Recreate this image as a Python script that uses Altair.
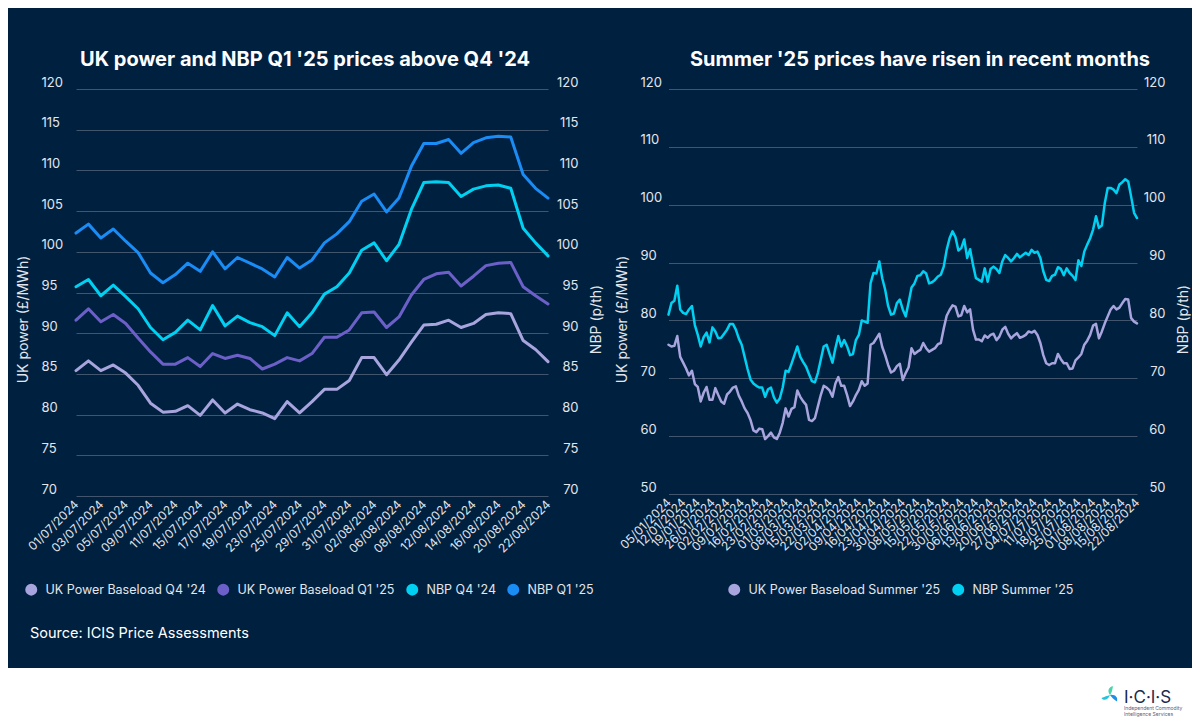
import altair as alt
import pandas as pd

BG = "#00203f"
GRID = "#43556d"
TXT = "#e2e6ec"
FONT = "Inter"

# ---------------- Left chart data ----------------
left_dates = [
    "01/07/2024", "02/07/2024", "03/07/2024", "04/07/2024", "05/07/2024",
    "08/07/2024", "09/07/2024", "10/07/2024", "11/07/2024", "12/07/2024",
    "15/07/2024", "16/07/2024", "17/07/2024", "18/07/2024", "19/07/2024",
    "22/07/2024", "23/07/2024", "24/07/2024", "25/07/2024", "26/07/2024",
    "29/07/2024", "30/07/2024", "31/07/2024", "01/08/2024", "02/08/2024",
    "05/08/2024", "06/08/2024", "07/08/2024", "08/08/2024", "09/08/2024",
    "12/08/2024", "13/08/2024", "14/08/2024", "15/08/2024", "16/08/2024",
    "19/08/2024", "20/08/2024", "21/08/2024", "22/08/2024",
]
left_ticks = [
    "01/07/2024", "03/07/2024", "05/07/2024", "09/07/2024", "11/07/2024",
    "15/07/2024", "17/07/2024", "19/07/2024", "23/07/2024", "25/07/2024",
    "29/07/2024", "31/07/2024", "02/08/2024", "06/08/2024", "08/08/2024",
    "12/08/2024", "14/08/2024", "16/08/2024", "20/08/2024", "22/08/2024",
]
uk_q4_24 = [85.4, 86.6, 85.4, 86.1, 85.1, 83.6, 81.4, 80.3, 80.4, 81.1,
            79.9, 81.8, 80.2, 81.3, 80.6, 80.2, 79.5, 81.6, 80.2, 81.6,
            83.1, 83.1, 84.2, 87.0, 87.0, 84.9, 86.7, 88.9, 91.0, 91.1,
            91.6, 90.7, 91.2, 92.3, 92.5, 92.4, 89.1, 88.0, 86.5]
uk_q1_25 = [91.6, 93.0, 91.4, 92.3, 91.2, 89.4, 87.7, 86.2, 86.2, 87.0,
            85.9, 87.5, 86.9, 87.3, 86.9, 85.6, 86.2, 87.0, 86.6, 87.5,
            89.5, 89.5, 90.4, 92.5, 92.6, 90.7, 92.0, 94.7, 96.6, 97.3,
            97.5, 95.8, 97.0, 98.3, 98.6, 98.7, 95.7, 94.6, 93.6]
nbp_q4_24 = [95.7, 96.6, 94.6, 95.9, 94.5, 93.0, 90.7, 89.2, 90.1, 91.6,
             90.4, 93.4, 90.9, 92.1, 91.3, 90.8, 89.7, 92.5, 90.8, 92.5,
             94.8, 95.7, 97.4, 100.2, 101.1, 98.9, 100.9, 105.2, 108.5, 108.6,
             108.5, 106.8, 107.7, 108.1, 108.2, 107.8, 102.9, 101.1, 99.5]
nbp_q1_25 = [102.3, 103.4, 101.7, 102.8, 101.3, 99.9, 97.4, 96.2, 97.2, 98.6,
             97.6, 100.0, 97.9, 99.3, 98.6, 97.9, 96.9, 99.3, 98.0, 99.0,
             101.1, 102.2, 103.7, 106.2, 107.1, 104.9, 106.6, 110.5, 113.3, 113.3,
             113.8, 112.1, 113.4, 114.0, 114.2, 114.1, 109.5, 107.8, 106.6]
left_names = ["UK Power Baseload Q4 '24", "UK Power Baseload Q1 '25", "NBP Q4 '24", "NBP Q1 '25"]
left_colors = ["#a8a4de", "#6c60c8", "#00d0f2", "#1a8cf5"]

# ---------------- Right chart data ----------------
uk_holidays = ["2024-03-29", "2024-04-01", "2024-05-06", "2024-05-27"]
right_dates = [d.strftime("%d/%m/%Y") for d in
               pd.bdate_range("2024-01-05", "2024-08-22", freq="C", holidays=uk_holidays)]
right_ticks = [
    "05/01/2024", "12/01/2024", "19/01/2024", "26/01/2024", "02/02/2024", "09/02/2024",
    "16/02/2024", "23/02/2024", "01/03/2024", "08/03/2024", "15/03/2024", "22/03/2024",
    "02/04/2024", "09/04/2024", "16/04/2024", "23/04/2024", "30/04/2024", "08/05/2024",
    "15/05/2024", "22/05/2024", "30/05/2024", "06/06/2024", "13/06/2024", "20/06/2024",
    "27/06/2024", "04/07/2024", "11/07/2024", "18/07/2024", "25/07/2024", "01/08/2024",
    "08/08/2024", "15/08/2024", "22/08/2024",
]
uk_summer_25 = [
    75.8, 75.5, 75.6, 77.3, 73.7, 72.7, 71.7, 70.5, 71.3, 69.0,
    68.5, 66.0, 67.5, 68.5, 66.3, 66.3, 68.3, 67.1, 66.0, 65.6,
    67.2, 67.7, 68.4, 68.6, 67.0, 66.0, 64.8, 64.0, 62.8, 61.0,
    60.7, 61.3, 61.2, 59.5, 60.0, 60.6, 59.8, 59.5, 60.6, 62.3,
    64.8, 63.4, 64.7, 65.0, 67.9, 66.8, 66.0, 65.4, 62.8, 62.6,
    63.1, 65.1, 67.1, 68.7, 68.4, 67.9, 66.8, 69.1, 70.2, 68.7,
    68.7, 67.1, 65.2, 66.0, 67.1, 68.0, 69.5, 68.7, 69.1, 75.8,
    76.1, 76.9, 77.7, 75.4, 74.0, 72.3, 71.0, 71.3, 72.1, 72.5,
    69.7, 70.9, 71.9, 75.2, 74.2, 74.6, 74.9, 76.1, 75.2, 74.6,
    74.9, 75.2, 75.9, 76.1, 78.6, 80.8, 81.8, 82.6, 82.4, 80.7,
    80.9, 82.5, 81.4, 81.9, 78.4, 76.7, 76.7, 76.4, 77.4, 77.0,
    77.5, 77.7, 76.6, 77.2, 78.4, 78.9, 77.7, 76.9, 77.4, 77.8,
    77.0, 77.2, 77.5, 78.1, 77.9, 78.2, 77.5, 76.1, 74.0, 72.6,
    72.3, 72.6, 72.6, 74.2, 73.3, 72.6, 72.6, 71.6, 71.7, 73.1,
    73.6, 74.2, 75.8, 76.5, 77.5, 79.1, 79.4, 76.9, 78.1, 79.5,
    80.7, 81.9, 82.5, 81.9, 82.2, 83.0, 83.7, 83.6, 80.4, 79.8,
    79.5,
]
nbp_summer_25 = [
    81.0, 83.0, 83.4, 86.0, 81.9, 81.3, 81.1, 81.9, 82.5, 79.2,
    77.5, 75.5, 77.1, 77.9, 76.2, 78.8, 78.1, 76.9, 77.0, 77.7,
    78.4, 79.4, 79.4, 78.4, 76.9, 75.8, 73.7, 71.6, 69.8, 69.1,
    68.7, 68.4, 68.4, 66.8, 68.1, 68.4, 66.7, 65.8, 66.5, 68.4,
    71.3, 71.1, 72.5, 74.0, 75.5, 73.7, 72.8, 72.0, 70.7, 69.5,
    69.3, 70.9, 73.2, 75.5, 75.8, 74.2, 72.7, 75.2, 77.3, 75.5,
    76.6, 75.5, 74.0, 74.2, 76.6, 77.5, 80.0, 79.8, 79.6, 86.4,
    88.2, 88.1, 90.2, 87.3, 85.3, 82.5, 81.0, 81.2, 83.0, 83.6,
    81.9, 80.7, 83.1, 85.7, 86.4, 87.7, 87.8, 88.5, 88.1, 86.4,
    86.6, 87.0, 87.6, 87.9, 89.3, 92.2, 94.2, 95.4, 94.4, 92.1,
    92.5, 94.0, 90.8, 92.3, 89.6, 87.3, 87.0, 86.7, 89.0, 86.7,
    88.9, 89.3, 88.9, 88.2, 90.2, 91.3, 90.8, 90.2, 90.8, 91.5,
    90.9, 91.3, 91.7, 91.3, 92.2, 91.7, 91.9, 90.8, 88.5, 87.0,
    86.8, 87.7, 87.9, 89.2, 88.9, 87.8, 89.0, 88.2, 87.7, 87.0,
    90.4, 89.4, 91.9, 93.1, 94.2, 95.7, 98.0, 96.0, 96.4, 100.3,
    102.9, 102.9, 102.6, 102.0, 103.5, 103.9, 104.4, 104.0, 101.4, 98.6,
    97.7,
]
right_names = ["UK Power Baseload Summer '25", "NBP Summer '25"]
right_colors = ["#a8a4de", "#00d0f2"]

TITLE_LEFT = "UK power and NBP Q1 '25 prices above Q4 '24"
TITLE_RIGHT = "Summer '25 prices have risen in recent months"
SOURCE = "Source: ICIS Price Assessments"


def long_df(dates, names, series):
    rows = []
    for n, s in zip(names, series):
        for i, (d, v) in enumerate(zip(dates, s)):
            rows.append({"date": d, "idx": i, "series": n, "value": v})
    return pd.DataFrame(rows)


uk_left = long_df(left_dates, left_names[:2], [uk_q4_24, uk_q1_25])
nbp_left = long_df(left_dates, left_names[2:], [nbp_q4_24, nbp_q1_25])
uk_right = long_df(right_dates, right_names[:1], [uk_summer_25])
nbp_right = long_df(right_dates, right_names[1:], [nbp_summer_25])

one = alt.Data(values=[{"k": 0}])

LW, LH = 537, 407
RW, RH = 525, 405


def x_enc(dates, ticks, rng):
    return alt.X(
        "date:N", sort=dates,
        scale=alt.Scale(type="point", padding=0, range=rng),
        axis=alt.Axis(values=ticks, title=None, labelAngle=-45, labelAlign="right",
                      labelBaseline="middle", labelPadding=6, labelFontSize=12,
                      labelColor=TXT, labelFont=FONT, domain=False, ticks=False,
                      grid=False, labelOverlap=False),
    )


def y_enc(domain, values, orient, title, grid):
    return alt.Y(
        "value:Q",
        scale=alt.Scale(domain=domain, nice=False, zero=False),
        axis=alt.Axis(
            orient=orient, values=values, title=title, grid=grid, gridColor=GRID,
            gridWidth=1, domain=False, ticks=False, tickSize=0, labelPadding=0,
            labelAlign="left" if orient == "left" else "right",
            labelBaseline="alphabetic", labelOffset=-3, labelFlush=False,
            labelOverlap=False, labelColor=TXT, labelFontSize=13, labelFont=FONT,
            titleAngle=270, titleX=-18 if orient == "left" else 18, titleY=230,
            titleAlign="center", titleBaseline="middle", titleColor=TXT,
            titleFontSize=14, titleFontWeight="normal", titleFont=FONT,
        ),
    )


def legend(x, y):
    return alt.Legend(orient="none", legendX=x, legendY=y, direction="horizontal",
                      title=None, symbolType="circle", symbolSize=36,
                      symbolStrokeWidth=6, labelFontSize=12.5, labelColor=TXT,
                      labelFont=FONT, labelLimit=0, columnPadding=2, labelOffset=8,
                      padding=0)


def lines(df, dates, ticks, rng, domain, values, orient, title, grid, names, colors, lg, sw):
    return alt.Chart(df).mark_line(strokeWidth=sw, strokeJoin="round", strokeCap="round").encode(
        x=x_enc(dates, ticks, rng),
        y=y_enc(domain, values, orient, title, grid),
        color=alt.Color("series:N", scale=alt.Scale(domain=names, range=colors), legend=lg),
        order=alt.Order("idx:Q"),
    )


def text(t, x, y, size, color, weight="normal", align="left", baseline="middle"):
    return alt.Chart(one).mark_text(text=t, font=FONT, fontSize=size, color=color,
                                    fontWeight=weight, align=align, baseline=baseline).encode(
        x=alt.value(x), y=alt.value(y))


def blade(path, color, x, y):
    return alt.Chart(one).mark_point(shape=path, filled=True, color=color, size=300,
                                     opacity=1, strokeWidth=0).encode(
        x=alt.value(x), y=alt.value(y))


# ---------------- Left panel ----------------
lx = [35, 507]
left_vals = list(range(70, 121, 5))
uk_l = lines(uk_left, left_dates, left_ticks, lx, [70, 120], left_vals, "left",
             "UK power (£/MWh)", True, left_names, left_colors, legend(-16, 494), 3)
nbp_l = lines(nbp_left, left_dates, left_ticks, lx, [70, 120], left_vals, "right",
              "NBP (p/th)", False, left_names, left_colors, legend(-16, 494), 3)

bound = alt.Chart(one).mark_rect(color=BG).encode(
    x=alt.value(-33), x2=alt.value(-32), y=alt.value(-81), y2=alt.value(-80))
white = alt.Chart(one).mark_rect(color="white").encode(
    x=alt.value(-33), x2=alt.value(1151), y=alt.value(579), y2=alt.value(631))

ICX, ICY = 1069, 606
logo = [
    blade("M0,0 C-0.35,-0.45 -0.15,-0.95 0.35,-1 C0.25,-0.6 0.25,-0.3 0,0 Z", "#49d3a8", ICX, ICY),
    blade("M0,0 C0.55,-0.1 0.95,0.25 0.8,0.75 C0.45,0.5 0.2,0.3 0,0 Z", "#1e8ee6", ICX, ICY),
    blade("M0,0 C-0.2,0.55 -0.7,0.75 -1,0.35 C-0.65,0.2 -0.3,0.1 0,0 Z", "#27c3dc", ICX, ICY),
    text("I·C·I·S", 1083, 614, 17, "#1b2a4e", baseline="alphabetic"),
    text("Independent Commodity", 1083, 619, 5, "#56607a"),
    text("Intelligence Services", 1083, 625, 5, "#56607a"),
]

left = alt.layer(
    bound, white, uk_l, nbp_l,
    text(TITLE_LEFT, 264, -29, 20, "white", weight="bold", align="center"),
    text(SOURCE, -11, 545, 14.5, "white"),
    *logo,
).resolve_scale(y="independent").properties(width=LW, height=LH)

# ---------------- Right panel ----------------
rx = [28.5, 497]
right_vals = list(range(50, 121, 10))
uk_r = lines(uk_right, right_dates, right_ticks, rx, [50, 120], right_vals, "left",
             "UK power (£/MWh)", True, right_names, right_colors, legend(88, 494), 2.5)
nbp_r = lines(nbp_right, right_dates, right_ticks, rx, [50, 120], right_vals, "right",
              "NBP (p/th)", False, right_names, right_colors, legend(88, 494), 2.5)

right = alt.layer(
    uk_r, nbp_r,
    text(TITLE_RIGHT, 280, -29, 20, "white", weight="bold", align="center"),
).resolve_scale(y="independent").properties(width=RW, height=RH)

chart = alt.hconcat(left, right, spacing=62, bounds="flush").resolve_scale(
    color="independent").resolve_legend(color="independent").properties(
    background=BG, padding=0).configure_view(stroke=None)

chart.save("out.html", embed_options={"renderer": "svg", "actions": False})
